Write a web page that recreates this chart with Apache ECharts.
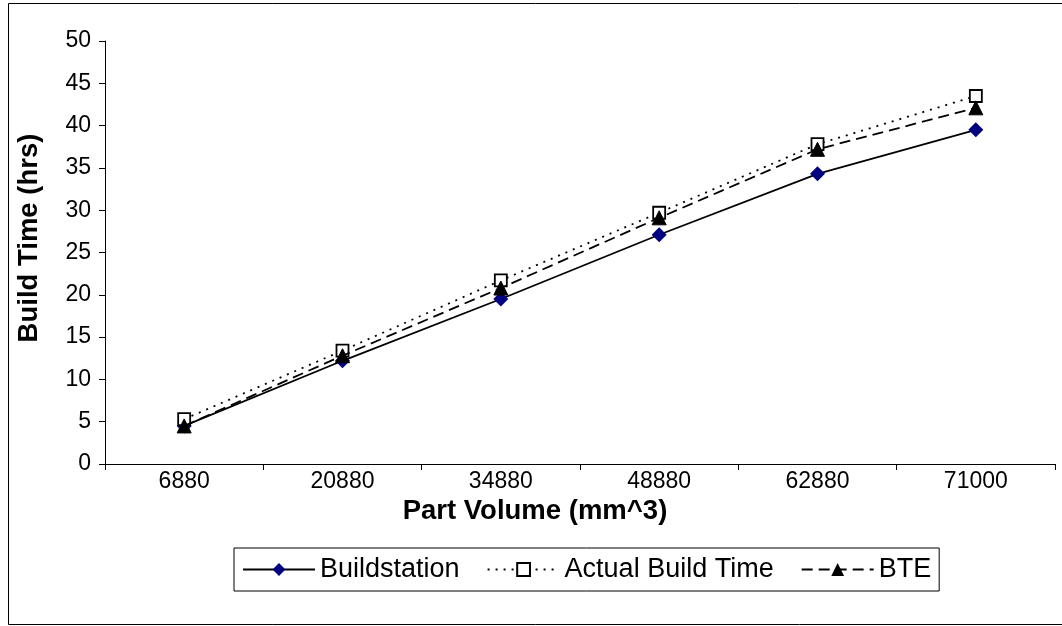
<!DOCTYPE html>
<html>
<head>
<meta charset="utf-8">
<script src="https://cdn.jsdelivr.net/npm/echarts@6/dist/echarts.min.js"></script>
<style>html,body{margin:0;padding:0;background:#fff;}#c{width:1062px;height:626px;}</style>
</head>
<body>
<div id="c"></div>
<script>
const categories = ['6880', '20880', '34880', '48880', '62880', '71000'];
const buildstation = [4.5, 12.2, 19.5, 27.1, 34.3, 39.5];
const actualBuildTime = [5.3, 13.4, 21.7, 29.7, 37.8, 43.5];
const bte = [4.5, 12.8, 20.8, 29.1, 37.2, 42.1];
const seriesNames = ['Buildstation', 'Actual Build Time', 'BTE'];

const FONT = 'Liberation Sans, Arial, sans-serif';
const chart = echarts.init(document.getElementById('c'), null, {renderer: 'canvas'});
chart.setOption({
  animation: false,
  backgroundColor: '#fff',
  grid: {left: 105, right: 7, top: 41, bottom: 162},
  graphic: [
    {type: 'rect', shape: {x: 8.5, y: 3.5, width: 1060, height: 621}, style: {fill: 'none', stroke: '#000', lineWidth: 1}, silent: true},
    {type: 'text', x: 535, y: 511, style: {text: 'Part Volume (mm^3)', font: 'bold 27.5px ' + FONT, fill: '#000', textAlign: 'center', textVerticalAlign: 'middle'}},
    {type: 'text', rotation: Math.PI / 2, x: 29, y: 238, style: {text: 'Build Time (hrs)', font: 'bold 27.5px ' + FONT, fill: '#000', textAlign: 'center', textVerticalAlign: 'middle'}}
  ],
  legend: {
    data: seriesNames,
    left: 234, top: 548,
    padding: [8, 8, 8, 8],
    borderColor: '#000', borderWidth: 1,
    itemWidth: 72, itemHeight: 16, itemGap: 27,
    textStyle: {fontFamily: FONT, fontSize: 27, color: '#000'}
  },
  xAxis: {
    type: 'category',
    data: categories,
    boundaryGap: true,
    axisLine: {lineStyle: {color: '#000', width: 1}},
    axisTick: {show: true, length: 6, inside: false, lineStyle: {color: '#000'}},
    axisLabel: {fontFamily: FONT, fontSize: 23, color: '#000', margin: 6}
  },
  yAxis: {
    type: 'value',
    min: 0, max: 50, interval: 5,
    splitLine: {show: false},
    axisLine: {show: true, lineStyle: {color: '#000', width: 1}},
    axisTick: {show: true, length: 6, lineStyle: {color: '#000'}},
    axisLabel: {fontFamily: FONT, fontSize: 23, color: '#000', margin: 14}
  },
  series: [
    {
      name: seriesNames[0], type: 'line', data: buildstation,
      symbol: 'diamond', symbolSize: 15,
      lineStyle: {color: '#000', width: 1.8, type: 'solid'},
      itemStyle: {color: '#000080', borderColor: '#000080', borderWidth: 0},
      color: '#000080', z: 2
    },
    {
      name: seriesNames[1], type: 'line', data: actualBuildTime,
      symbol: 'rect', symbolSize: 12,
      lineStyle: {color: '#000', width: 1.8, type: [2, 6]},
      itemStyle: {color: '#fff', borderColor: '#000', borderWidth: 1.8},
      z: 3
    },
    {
      name: seriesNames[2], type: 'line', data: bte,
      symbol: 'triangle', symbolSize: 14,
      lineStyle: {color: '#000', width: 1.8, type: [11, 6]},
      itemStyle: {color: '#000', borderColor: '#000'},
      z: 4
    }
  ]
});
</script>
</body>
</html>
